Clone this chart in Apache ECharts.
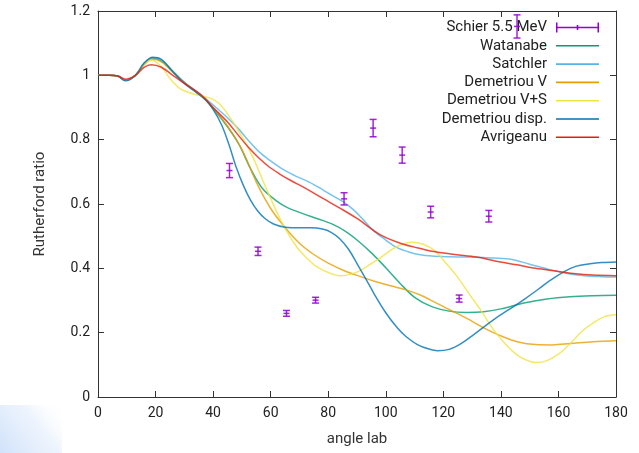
<!DOCTYPE html>
<html>
<head>
<meta charset="utf-8">
<script src="https://cdn.jsdelivr.net/npm/echarts@6/dist/echarts.min.js"></script>
<style>
  html, body { margin: 0; padding: 0; background: #fff; }
  #chart { width: 639px; height: 453px; }
</style>
</head>
<body>
<div id="chart"></div>
<script>
// Axis ticks
const xTicks = [0, 20, 40, 60, 80, 100, 120, 140, 160, 180];
const yTicks = [0, 0.2, 0.4, 0.6, 0.8, 1, 1.2];

// Measured ratios: Schier 5.5 MeV
const schierAngle = [45.7, 55.6, 65.5, 75.6, 85.5, 95.6, 105.7, 115.6, 125.5, 135.8, 145.6];
const schierRatio = [0.704, 0.453, 0.260, 0.301, 0.616, 0.836, 0.752, 0.575, 0.306, 0.562, 1.152];
const schierError = [0.022, 0.013, 0.009, 0.009, 0.019, 0.027, 0.025, 0.018, 0.011, 0.018, 0.036];

// Optical-model curves, [angle, ratio]
const watanabe = [
  [0, 1.0], [4, 1.0], [7, 0.997], [9.5, 0.985], [13, 1.0], [16, 1.035], [19, 1.052], [22, 1.045],
  [26, 1.012], [30, 0.978], [36, 0.935], [40, 0.897], [45, 0.84], [49, 0.785], [53, 0.71],
  [57, 0.65], [62, 0.61], [66, 0.588], [70, 0.574], [74, 0.561], [78, 0.549], [82, 0.535],
  [86, 0.515], [90, 0.488], [95, 0.448], [100, 0.402], [105, 0.353], [110, 0.31], [116, 0.281],
  [122, 0.267], [128, 0.263], [134, 0.265], [140, 0.274], [148, 0.292], [156, 0.305],
  [164, 0.312], [172, 0.315], [180, 0.316]
];
const satchler = [
  [0, 1.0], [4, 1.0], [7, 0.997], [9.5, 0.985], [13, 1.0], [16, 1.037], [19, 1.055], [22, 1.048],
  [26, 1.013], [30, 0.978], [36, 0.938], [40, 0.908], [45, 0.868], [49, 0.832], [52.5, 0.795],
  [56, 0.762], [59.5, 0.737], [64, 0.709], [68, 0.69], [73.4, 0.668], [78, 0.645], [81.5, 0.626],
  [85, 0.608], [88.5, 0.584], [92, 0.553], [95.6, 0.518], [100, 0.488], [103.7, 0.465],
  [108, 0.451], [112, 0.442], [116, 0.438], [122, 0.436], [128, 0.435], [135, 0.433],
  [143, 0.429], [150, 0.413], [157, 0.396], [163, 0.384], [169, 0.377], [175, 0.374], [180, 0.373]
];
const demetriouV = [
  [0, 1.0], [4, 1.0], [7, 0.997], [9.5, 0.985], [13, 1.0], [16, 1.033], [19, 1.05], [22, 1.042],
  [26, 1.01], [30, 0.977], [36, 0.935], [40, 0.9], [45, 0.842], [50, 0.77], [55, 0.668],
  [60, 0.586], [65, 0.527], [70, 0.478], [75, 0.443], [80, 0.416], [85, 0.395], [90, 0.378],
  [96, 0.36], [102, 0.345], [107, 0.333], [112, 0.317], [117, 0.295], [122, 0.272], [128, 0.245],
  [134, 0.215], [140, 0.19], [146, 0.171], [152, 0.163], [158, 0.162], [164, 0.166],
  [172, 0.172], [180, 0.175]
];
const demetriouVS = [
  [0, 1.0], [4, 1.0], [7, 0.997], [9.5, 0.985], [13, 1.0], [16, 1.035], [18.5, 1.048], [22, 1.027],
  [25, 0.99], [28, 0.962], [31, 0.948], [35, 0.938], [39, 0.929], [42, 0.913], [45.5, 0.874],
  [50, 0.81], [54, 0.742], [58, 0.658], [62, 0.578], [65, 0.524], [69, 0.467], [72, 0.437],
  [76, 0.405], [80, 0.387], [84, 0.377], [88, 0.382], [91, 0.393], [95, 0.415], [98, 0.432],
  [102, 0.458], [105.5, 0.474], [109, 0.481], [113, 0.475], [117, 0.455], [121, 0.415],
  [125, 0.372], [129, 0.32], [133, 0.27], [137, 0.215], [141, 0.17], [145, 0.135], [148, 0.118],
  [152, 0.107], [156, 0.113], [160, 0.133], [164, 0.165], [168, 0.203], [172, 0.23],
  [176, 0.25], [180, 0.256]
];
const demetriouDisp = [
  [0, 1.0], [4, 1.0], [7, 0.997], [9.5, 0.983], [13, 1.0], [16, 1.038], [19, 1.056], [22, 1.05],
  [25.7, 1.014], [30, 0.975], [34, 0.948], [37.4, 0.924], [40, 0.894], [43, 0.845],
  [45.5, 0.785], [48, 0.715], [50.5, 0.658], [53, 0.612], [55.5, 0.578], [58, 0.555], [61, 0.538],
  [65, 0.528], [70, 0.526], [74, 0.526], [78, 0.522], [81, 0.512], [84, 0.492], [87, 0.46],
  [90, 0.415], [93.2, 0.365], [96, 0.32], [100, 0.262], [104, 0.215], [107, 0.188], [111, 0.163],
  [115, 0.149], [118, 0.144], [122, 0.148], [126, 0.165], [130, 0.19], [134, 0.217],
  [138, 0.244], [143, 0.273], [148, 0.303], [153, 0.335], [157, 0.362], [162, 0.39],
  [166, 0.406], [171, 0.414], [175, 0.418], [180, 0.42]
];
const avrigeanu = [
  [0, 1.0], [4, 1.0], [7, 0.998], [9.5, 0.988], [13, 1.0], [16, 1.025], [18.5, 1.033], [22, 1.025],
  [26, 1.0], [30, 0.975], [36, 0.938], [40, 0.9], [45, 0.855], [49, 0.811], [52.5, 0.774],
  [56, 0.742], [59.5, 0.715], [63, 0.694], [67, 0.673], [72.3, 0.648], [78, 0.618], [83.9, 0.588],
  [90, 0.555], [98, 0.505], [104.8, 0.479], [110, 0.466], [116, 0.453],
  [124, 0.443], [131.6, 0.435], [138, 0.423], [145.5, 0.411], [152, 0.4], [159.5, 0.391],
  [166, 0.383], [172, 0.379], [180, 0.377]
];

const seriesNames = ['Schier 5.5 MeV', 'Watanabe', 'Satchler', 'Demetriou V', 'Demetriou V+S', 'Demetriou disp.', 'Avrigeanu'];
const seriesColors = ['#9400D3', '#009E73', '#56B4E9', '#E69F00', '#F0E442', '#0072B2', '#E51E10'];
const curves = [watanabe, satchler, demetriouV, demetriouVS, demetriouDisp, avrigeanu];

const FONT = 'Roboto';
const frameColor = '#333';

const errorData = schierAngle.map((a, i) => [a, schierRatio[i], schierRatio[i] - schierError[i], schierRatio[i] + schierError[i]]);

function renderErrorBar(params, api) {
  const x = api.value(0);
  const c = api.coord([x, api.value(1)]);
  const lo = api.coord([x, api.value(2)]);
  const hi = api.coord([x, api.value(3)]);
  const style = { stroke: api.visual('color'), lineWidth: 1.5, opacity: 0.85 };
  const cap = 3.5;
  return {
    type: 'group',
    children: [
      { type: 'line', shape: { x1: lo[0], y1: lo[1], x2: hi[0], y2: hi[1] }, style },
      { type: 'line', shape: { x1: lo[0] - cap, y1: lo[1], x2: lo[0] + cap, y2: lo[1] }, style },
      { type: 'line', shape: { x1: hi[0] - cap, y1: hi[1], x2: hi[0] + cap, y2: hi[1] }, style },
      { type: 'line', shape: { x1: c[0] - 3, y1: c[1], x2: c[0] + 3, y2: c[1] }, style }
    ]
  };
}

const lineIcon = 'path://M0,0h43v1.6h-43z';
const errIcon = 'path://M0,4.2h43v1.6h-43z M0,0h1.5v10h-1.5z M41.5,0h1.5v10h-1.5z M20.7,2.5h1.6v5h-1.6z';

const series = [{
  name: seriesNames[0],
  type: 'custom',
  renderItem: renderErrorBar,
  itemStyle: { color: seriesColors[0] },
  encode: { x: 0, y: 1 },
  data: errorData,
  z: 5
}].concat(curves.map((d, i) => ({
  name: seriesNames[i + 1],
  type: 'line',
  data: d,
  smooth: 0.35,
  symbol: 'none',
  color: seriesColors[i + 1],
  lineStyle: { width: 1.5, color: seriesColors[i + 1], opacity: 0.8 },
  itemStyle: { color: seriesColors[i + 1] },
  z: 3
})));

function frameAxis(position, isX, main) {
  const ax = {
    type: 'value',
    position,
    min: isX ? xTicks[0] : yTicks[0],
    max: isX ? xTicks[xTicks.length - 1] : yTicks[yTicks.length - 1],
    interval: isX ? 20 : 0.2,
    axisLine: { show: true, onZero: false, lineStyle: { color: frameColor, width: 1 } },
    axisTick: { show: true, inside: true, length: 6, lineStyle: { color: frameColor, width: 1 } },
    splitLine: { show: false },
    axisLabel: { show: main, color: '#222', fontSize: 14, fontFamily: FONT, margin: isX ? 9 : 8 }
  };
  if (main) {
    ax.name = isX ? 'angle lab' : 'Rutherford ratio';
    ax.nameLocation = 'middle';
    ax.nameGap = isX ? 35 : 50;
    ax.nameTextStyle = { color: '#333', fontSize: 15, fontFamily: FONT };
  }
  return ax;
}

const chart = echarts.init(document.getElementById('chart'), null, { renderer: 'canvas' });
chart.setOption({
  animation: false,
  backgroundColor: '#fff',
  grid: { left: 98, right: 23, top: 11, bottom: 56, containLabel: false },
  xAxis: [frameAxis('bottom', true, true), frameAxis('top', true, false)],
  yAxis: [frameAxis('left', false, true), frameAxis('right', false, false)],
  legend: {
    orient: 'vertical',
    right: 40,
    top: 20,
    padding: 0,
    align: 'right',
    itemWidth: 43,
    itemHeight: 14,
    itemGap: 3.3,
    selectedMode: false,
    textStyle: { color: '#222', fontSize: 15, fontFamily: FONT, padding: [0, 4, 0, 0] },
    data: seriesNames.map((n, i) => ({ name: n, icon: i === 0 ? errIcon : lineIcon }))
  },
  graphic: [{
    type: 'rect',
    left: 0,
    top: 405,
    shape: { width: 62, height: 48 },
    style: {
      fill: new echarts.graphic.LinearGradient(0, 1, 1, 0, [
        { offset: 0, color: 'rgba(205,224,250,0.95)' },
        { offset: 0.6, color: 'rgba(225,236,252,0.6)' },
        { offset: 1, color: 'rgba(255,255,255,0)' }
      ])
    },
    silent: true,
    z: -1
  }],
  series
});
</script>
</body>
</html>
